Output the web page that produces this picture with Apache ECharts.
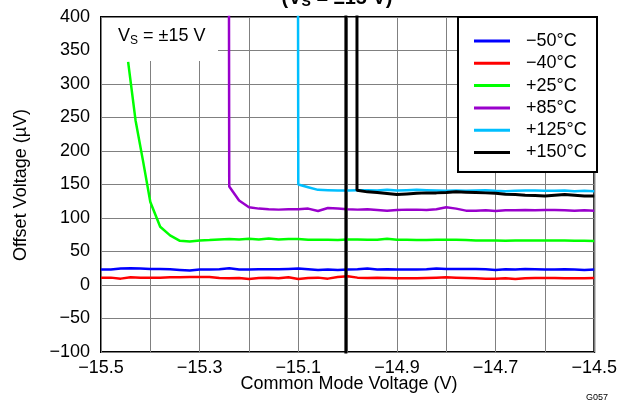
<!DOCTYPE html>
<html>
<head>
<meta charset="utf-8">
<script src="https://cdn.jsdelivr.net/npm/echarts@6/dist/echarts.min.js"></script>
<style>
html,body{margin:0;padding:0;background:#fff;}
#chart{width:620px;height:404px;}
</style>
</head>
<body>
<div id="chart"></div>
<script>
// ---- data ----
const seriesNames = ['\u221250\u00b0C', '\u221240\u00b0C', '+25\u00b0C', '+85\u00b0C', '+125\u00b0C', '+150\u00b0C'];
const seriesColors = ['#0000ff', '#ff0000', '#00ff00', '#9900cc', '#00bfff', '#000000'];

const xCommon = [-15.50,-15.48,-15.46,-15.44,-15.42,-15.40,-15.38,-15.36,-15.34,-15.32,-15.30,-15.28,-15.26,-15.24,-15.22,-15.20,-15.18,-15.16,-15.14,-15.12,-15.10,-15.08,-15.06,-15.04,-15.02,-15.00,-14.98,-14.96,-14.94,-14.92,-14.90,-14.88,-14.86,-14.84,-14.82,-14.80,-14.78,-14.76,-14.74,-14.72,-14.70,-14.68,-14.66,-14.64,-14.62,-14.60,-14.58,-14.56,-14.54,-14.52,-14.50];

const yM50 = [23,23,24.5,25,24.5,24,24,23.5,22.5,21.5,23,23,23.5,25,23,23,23.5,23.5,23.5,24,24.5,23.5,22.5,23,22.5,23,23.5,24.5,23,23.5,23,23,23,23.5,24.5,24,24,24,24,23.5,22.5,23.5,23,24,23.5,23,23,23.5,23,22.5,23];
const yM40 = [11,11,9.5,11.5,11,11,11,11.5,11.5,12,12,12,10.5,10,10.5,9,10.5,11,10,11.5,9,10.5,11,9.5,12,13,11,10.5,11,10.5,10,10,10,10.5,11,11.5,11,10.5,10,9.5,9.5,10,9,10,10.5,10.5,10.5,10,10,10,10.5];

const x25 = [-15.445,-15.43,-15.415,-15.40,-15.38,-15.36,-15.34,-15.32,-15.30,-15.28,-15.26,-15.24,-15.22,-15.20,-15.18,-15.16,-15.14,-15.12,-15.10,-15.08,-15.06,-15.04,-15.02,-15.00,-14.98,-14.96,-14.94,-14.92,-14.90,-14.88,-14.86,-14.84,-14.82,-14.80,-14.78,-14.76,-14.74,-14.72,-14.70,-14.68,-14.66,-14.64,-14.62,-14.60,-14.58,-14.56,-14.54,-14.52,-14.50];
const y25 = [333,246,186,124,87,74,66,65,66.5,67,68,68.5,68,69,68,69.5,68,68.5,68.5,67.5,67.5,67.5,67,68,68,67.5,67.5,69,67.5,67.5,67,67,67.5,67.5,67.5,67,66.5,66.5,66.5,66,66.5,66.5,66.5,66.5,66.5,66.5,66,66,65.5];

const x85 = [-15.26,-15.24,-15.22,-15.20,-15.18,-15.16,-15.14,-15.12,-15.10,-15.08,-15.06,-15.04,-15.02,-15.00,-14.98,-14.96,-14.94,-14.92,-14.90,-14.88,-14.86,-14.84,-14.82,-14.80,-14.78,-14.76,-14.74,-14.72,-14.70,-14.68,-14.66,-14.64,-14.62,-14.60,-14.58,-14.56,-14.54,-14.52,-14.50];
const y85 = [10000,147,126,116,114,113,112.5,113,113,114,110.5,115,114,113,112.5,113,112,111,112,112.5,112.5,112,113,116,114,111,111,111.5,110.5,111.5,111.5,112,111.5,112,112,111.5,111,111.5,111];

const x125 = [-15.12,-15.10,-15.08,-15.06,-15.04,-15.02,-15.00,-14.98,-14.96,-14.94,-14.92,-14.90,-14.88,-14.86,-14.84,-14.82,-14.80,-14.78,-14.76,-14.74,-14.72,-14.70,-14.68,-14.66,-14.64,-14.62,-14.60,-14.58,-14.56,-14.54,-14.52,-14.50];
const y125 = [10000,150,146,142,141.5,141,141,141.5,141.5,141,142,141,141.5,142,141.5,141,140.5,141,140.5,141,141.5,140.5,140,140.5,141,141,140.5,140.5,141,140,140.5,140];

const x150 = [-15.004,-15.003,-14.982,-14.981,-14.96,-14.94,-14.92,-14.90,-14.88,-14.86,-14.84,-14.82,-14.80,-14.78,-14.76,-14.74,-14.72,-14.70,-14.68,-14.66,-14.64,-14.62,-14.60,-14.58,-14.56,-14.54,-14.52,-14.50];
const y150 = [-10000,10000,10000,141.5,139,138,136.5,135,136,137,137.5,137.5,138,139,138.5,138,137.5,137,135.5,135,134,133.5,133,134,135,134,133,133];

const xTickValues = [-15.5,-15.3,-15.1,-14.9,-14.7,-14.5];
const xTickLabels = ['\u221215.5','\u221215.3','\u221215.1','\u221214.9','\u221214.7','\u221214.5'];
const yTickValues = [-100,-50,0,50,100,150,200,250,300,350,400];
const yTickLabels = ['\u2212100','\u221250','0','50','100','150','200','250','300','350','400'];

const xAxisTitle = 'Common Mode Voltage (V)';
const yAxisTitle = 'Offset Voltage (\u00b5V)';
const noteCode = 'G057';

// ---- chart ----
const FONT = '"Liberation Sans", Arial, sans-serif';
function pair(xs, ys){ return xs.map((x,i)=>[x, ys[i]]); }
const allX = [xCommon, xCommon, x25, x85, x125, x150];
const allY = [yM50, yM40, y25, y85, y125, y150];

const chart = echarts.init(document.getElementById('chart'), null, {renderer:'canvas'});
const series = seriesNames.map((n,i)=>({
  name: n, type: 'line', data: pair(allX[i], allY[i]),
  showSymbol: false, symbol: 'none', smooth: false, clip: true,
  lineStyle: {color: seriesColors[i], width: i===5 ? 3 : 2.5},
  itemStyle: {color: seriesColors[i]},
  z: 2, animation: false
}));

const option = {
  animation: false,
  backgroundColor: '#ffffff',
  textStyle: {fontFamily: FONT},
  grid: {left: 101, right: 23, top: 17, bottom: 52, show: true, borderColor: '#000', borderWidth: 2, backgroundColor: 'transparent'},
  xAxis: {
    type: 'value', min: -15.5, max: -14.5, interval: 0.1,
    axisLine: {show: false}, axisTick: {show: false},
    splitLine: {show: true, lineStyle: {color: '#808080', width: 1}},
    axisLabel: {
      margin: 7, color: '#000', fontSize: 18, fontFamily: FONT, showMinLabel: true, showMaxLabel: true,
      formatter: v => { const k = xTickValues.findIndex(t => Math.abs(t - v) < 1e-6); return k >= 0 ? xTickLabels[k] : ''; }
    }
  },
  yAxis: {
    type: 'value', min: -100, max: 400, interval: 50,
    axisLine: {show: false}, axisTick: {show: false},
    splitLine: {show: true, lineStyle: {color: '#808080', width: 1}},
    axisLabel: {
      margin: 11, color: '#000', fontSize: 18, fontFamily: FONT,
      formatter: v => { const k = yTickValues.findIndex(t => Math.abs(t - v) < 1e-6); return k >= 0 ? yTickLabels[k] : ''; }
    }
  },
  legend: {
    orient: 'vertical', left: 469, top: 27, itemWidth: 36, itemHeight: 3, itemGap: 4.3,
    icon: 'rect', z: 10,
    textStyle: {fontSize: 18, lineHeight: 18, color: '#000', fontFamily: FONT, padding: [0,0,0,11]},
    data: seriesNames
  },
  graphic: [
    {type: 'rect', z: 5, shape: {x: 102, y: 18, width: 116, height: 43}, style: {fill: '#fff'}},
    {type: 'rect', z: 5, shape: {x: 458, y: 17, width: 139, height: 155}, style: {fill: '#fff', stroke: '#000', lineWidth: 2}},
    {type: 'text', z: 6, x: 118, y: 36, style: {
      text: '{a|V}{s|S}{a| = \u00b115 V}', fill: '#000', verticalAlign: 'middle', align: 'left',
      rich: {a: {fontSize: 18, fontFamily: FONT, lineHeight: 20}, s: {fontSize: 12, fontFamily: FONT, lineHeight: 20, padding: [9,0,0,0]}}
    }},
    {type: 'text', z: 6, x: 337, y: -2, style: {
      text: '{a|(V}{s|S}{a| = \u00b115 V)}', fill: '#000', verticalAlign: 'middle', align: 'center',
      rich: {a: {fontSize: 20, fontWeight: 'bold', fontFamily: FONT, lineHeight: 22}, s: {fontSize: 14, fontWeight: 'bold', fontFamily: FONT, lineHeight: 22, padding: [9,0,0,0]}}
    }},
    {type: 'text', z: 6, x: 349, y: 384, style: {text: xAxisTitle, fontSize: 18, fontFamily: FONT, fill: '#000', align: 'center', verticalAlign: 'middle'}},
    {type: 'text', z: 6, x: 21, y: 185, rotation: Math.PI/2, style: {text: yAxisTitle, fontSize: 18, fontFamily: FONT, fill: '#000', align: 'center', verticalAlign: 'middle'}},
    {type: 'text', z: 6, x: 608, y: 398, style: {text: noteCode, fontSize: 9, fontFamily: FONT, fill: '#000', align: 'right', verticalAlign: 'middle'}}
  ],
  series: series
};
chart.setOption(option);
</script>
</body>
</html>
